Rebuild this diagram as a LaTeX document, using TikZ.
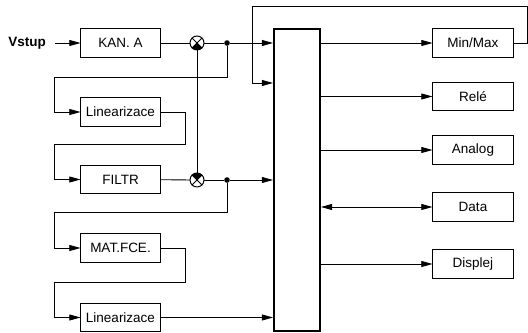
\documentclass[tikz,border=0pt]{standalone}
\usepackage{fontspec}
\setmainfont{Liberation Sans}
\usetikzlibrary{arrows.meta}

\begin{document}
\begin{tikzpicture}[x=0.025cm, y=-0.025cm, font=\fontsize{9.6}{11}\selectfont, line width=0.6pt,
    blok/.style={draw, line width=0.7pt, minimum width=1.975cm, minimum height=0.7cm, inner sep=0pt},
    vystup/.style={blok, minimum width=2cm},
    mix/.style={draw, circle, line width=0.7pt, minimum size=0.35cm, inner sep=0pt, outer sep=0pt, fill=white},
    bod/.style={circle, fill, inner sep=0pt, minimum size=0.14cm},
    sip/.style={-{Triangle[length=2.8mm,width=1.5mm]}},
    sip2/.style={{Triangle[length=2.8mm,width=1.5mm]}-{Triangle[length=2.8mm,width=1.5mm]}}]
        \useasboundingbox (0,0) rectangle (528,333);
        % vstupni cast
        \node[font=\bfseries\fontsize{9.6}{11}\selectfont] (vstup) at (27,43) {Vstup};
        \node[blok] (kana) at (120.5,43) {KAN. A};
        \node[blok] (lin1) at (120.5,112) {Linearizace};
        \node[blok] (filtr) at (120.5,179.5) {FILTR};
        \node[blok] (mat) at (120.5,248) {MAT.FCE.};
        \node[blok] (lin2) at (120.5,317.5) {Linearizace};
        \node[mix] (mix1) at (197,43) {};
        \node[mix] (mix2) at (197,180) {};
        \node[bod] (bod1) at (227,43) {};
        \node[bod] (bod2) at (227,180) {};
        \node[draw, line width=1.4pt, minimum width=1.15cm, minimum height=7.55cm, inner sep=0pt] (proc) at (297,180) {};
        % vystupy
        \node[vystup] (minmax) at (473,43) {Min/Max};
        \node[vystup] (rele) at (473,96.5) {Relé};
        \node[vystup] (analog) at (473,150) {Analog};
        \node[vystup] (data) at (473,207) {Data};
        \node[vystup] (displej) at (473,264) {Displej};

        \fill (mix1.center) -- (mix1.-45) arc[start angle=-45, end angle=-135, radius=0.175cm] -- cycle;
        \draw (mix1.45) -- (mix1.-135) (mix1.135) -- (mix1.-45);
        \fill (mix2.center) -- (mix2.45) arc[start angle=45, end angle=135, radius=0.175cm] -- cycle;
        \draw (mix2.45) -- (mix2.-135) (mix2.135) -- (mix2.-45);

        \draw[sip, shorten <=1mm] (vstup) -- (kana);
        \draw (kana) -- (mix1);
        \draw (mix1) -- (bod1);
        \draw[sip] (bod1) -- (proc.west |- bod1);
        \draw (mix1) -- (mix2);
        \draw (filtr) -- (mix2);
        \draw (mix2) -- (bod2);
        \draw[sip] (bod2) -- (proc.west |- bod2);
        \draw[sip] (bod1) |- (54,77) |- (lin1.west);
        \draw[sip] (lin1.east) -| (185,144) -- (54,144) |- (filtr.west);
        \draw[sip] (bod2) |- (54,212) |- (mat.west);
        \draw[sip] (mat.east) -| (185,282) -- (54,282) |- (lin2.west);
        \draw[sip] (lin2) -- (proc.west |- lin2);

        \draw[sip] (proc.east |- minmax) -- (minmax);
        \draw[sip] (proc.east |- rele) -- (rele);
        \draw[sip] (proc.east |- analog) -- (analog);
        \draw[sip2] (proc.east |- data) -- (data);
        \draw[sip] (proc.east |- displej) -- (displej);
        \draw[sip] (minmax.east) -- (527,43) |- (252,6) |- (proc.west |- 0,83);
\end{tikzpicture}
\end{document}
